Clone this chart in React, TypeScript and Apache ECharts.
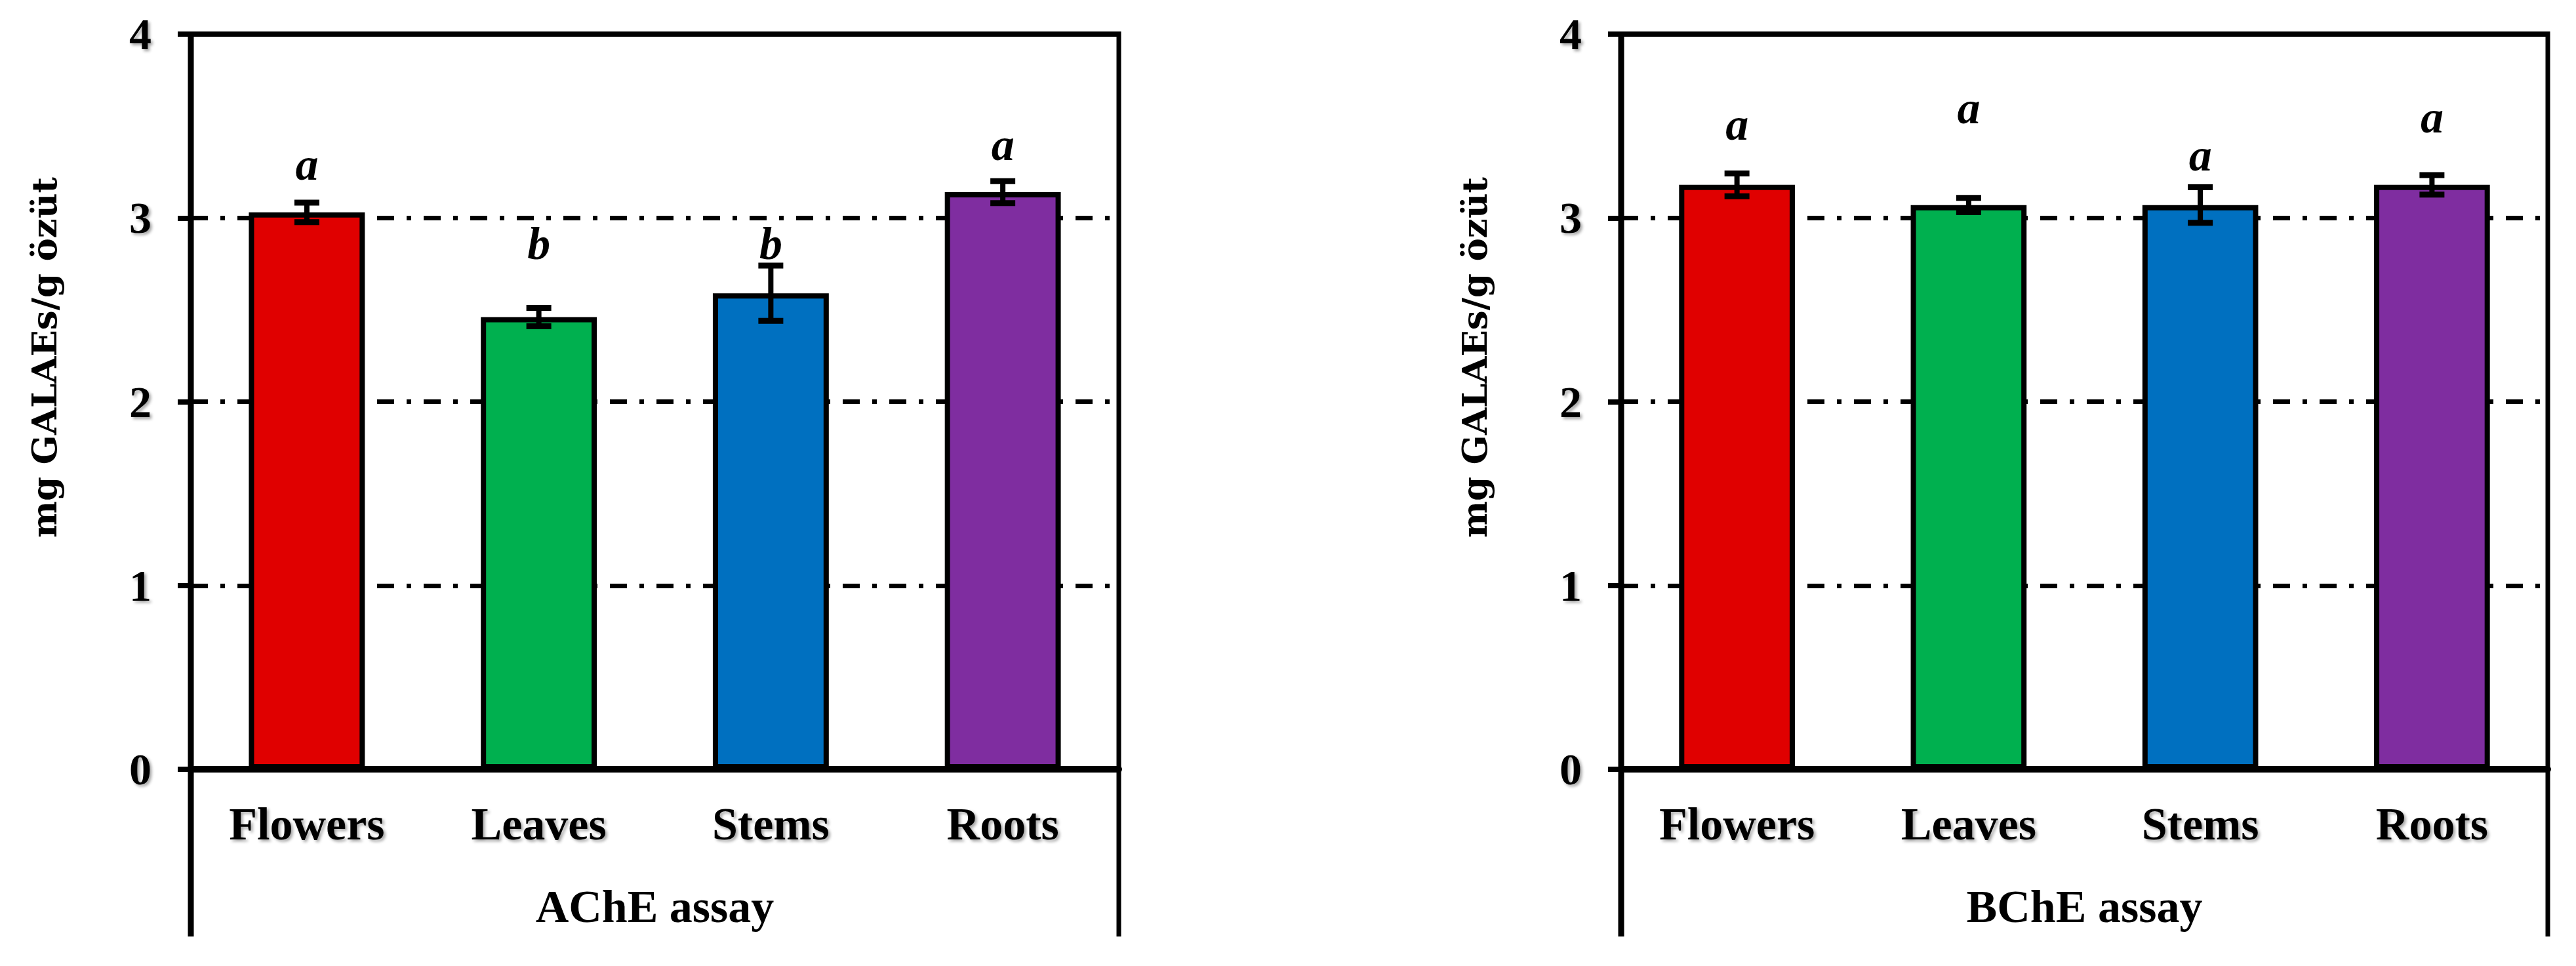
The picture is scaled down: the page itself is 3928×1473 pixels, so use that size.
import React, { useEffect, useRef } from "react";
import * as echarts from "echarts";

// ---------- data ----------
const categories = ["Flowers", "Leaves", "Stems", "Roots"];
const barColors = ["#E00000", "#00B04F", "#0070C0", "#7F2DA0"];
const yMin = 0;
const yMax = 4;
const yStep = 1;
const assayNames = ["AChE assay", "BChE assay"];
const yAxisTitle = "mg GALAEs/g özüt";

const acheMeans = [3.03, 2.46, 2.59, 3.14];
const acheErrors = [0.053, 0.05, 0.15, 0.06];
const acheLetters = ["a", "b", "b", "a"];
const acheLetterPos = [3.29, 2.86, 2.86, 3.4];

const bcheMeans = [3.18, 3.07, 3.07, 3.18];
const bcheErrors = [0.062, 0.039, 0.097, 0.053];
const bcheLetters = ["a", "a", "a", "a"];
const bcheLetterPos = [3.51, 3.6, 3.34, 3.55];

// ---------- layout ----------
const W = 3928;
const H = 1473;
const PANELS = [
  { left: 291, width: 1415, means: acheMeans, errors: acheErrors, letters: acheLetters, letterPos: acheLetterPos, name: assayNames[0] },
  { left: 2472, width: 1413, means: bcheMeans, errors: bcheErrors, letters: bcheLetters, letterPos: bcheLetterPos, name: assayNames[1] },
];
const GRID_TOP = 52;
const GRID_H = 1121;
const FRAME_BOTTOM = 1428;
const SERIF = '"Liberation Serif", "DejaVu Serif", serif';
const shadow = {
  textShadowColor: "rgba(0,0,0,0.35)",
  textShadowBlur: 4,
  textShadowOffsetX: 3,
  textShadowOffsetY: 3,
};

function buildOption() {
  const grid: any[] = [];
  const xAxis: any[] = [];
  const yAxis: any[] = [];
  const series: any[] = [];
  const graphic: any[] = [];

  PANELS.forEach((p, gi) => {
    grid.push({ left: p.left, top: GRID_TOP, width: p.width, height: GRID_H, containLabel: false });
    xAxis.push({
      type: "category",
      gridIndex: gi,
      data: categories,
      boundaryGap: true,
      axisLine: { show: true, lineStyle: { color: "#000", width: 10 } },
      axisTick: { show: false },
      axisLabel: {
        margin: 48,
        fontSize: 70,
        fontWeight: "bold",
        fontFamily: SERIF,
        color: "#000",
        ...shadow,
      },
      splitLine: { show: false },
      z: 5,
    });
    yAxis.push({
      type: "value",
      gridIndex: gi,
      min: yMin,
      max: yMax,
      interval: yStep,
      axisLine: { show: false },
      axisTick: { show: true, length: 20, lineStyle: { color: "#000", width: 8 } },
      axisLabel: {
        margin: 60,
        fontSize: 68,
        fontWeight: "bold",
        fontFamily: SERIF,
        color: "#000",
        ...shadow,
      },
      splitLine: { show: true, lineStyle: { color: "#000", width: 7, type: [26, 19, 7, 19] } },
    });

    series.push({
      type: "bar",
      xAxisIndex: gi,
      yAxisIndex: gi,
      barWidth: "50%",
      data: p.means.map((v, i) => ({
        value: v,
        itemStyle: { color: barColors[i], borderColor: "#000", borderWidth: 8 },
      })),
      z: 3,
    });

    series.push({
      type: "custom",
      xAxisIndex: gi,
      yAxisIndex: gi,
      z: 6,
      encode: { x: 0, y: 1 },
      data: p.means.map((m, i) => [i, m, p.errors[i]]),
      renderItem: (params: any, api: any) => {
        const i = api.value(0);
        const m = api.value(1);
        const e = api.value(2);
        const top = api.coord([i, m + e]);
        const bot = api.coord([i, m - e]);
        const half = 19;
        return {
          type: "group",
          children: [
            { type: "line", shape: { x1: top[0], y1: top[1], x2: bot[0], y2: bot[1] }, style: { stroke: "#000", lineWidth: 8 } },
            { type: "line", shape: { x1: top[0] - half, y1: top[1], x2: top[0] + half, y2: top[1] }, style: { stroke: "#000", lineWidth: 9 } },
            { type: "line", shape: { x1: bot[0] - half, y1: bot[1], x2: bot[0] + half, y2: bot[1] }, style: { stroke: "#000", lineWidth: 9 } },
          ],
        };
      },
    });

    series.push({
      type: "custom",
      xAxisIndex: gi,
      yAxisIndex: gi,
      z: 7,
      encode: { x: 0, y: 1 },
      data: p.letterPos.map((v, i) => [i, v]),
      renderItem: (params: any, api: any) => {
        const pt = api.coord([api.value(0), api.value(1)]);
        return {
          type: "text",
          x: pt[0],
          y: pt[1],
          style: {
            text: p.letters[params.dataIndex],
            fontSize: 70,
            fontWeight: "bold",
            fontStyle: "italic",
            fontFamily: SERIF,
            fill: "#000",
            align: "center",
            verticalAlign: "middle",
          },
        };
      },
    });

    const L = p.left;
    const R = p.left + p.width;
    graphic.push(
      { type: "line", z: 100, shape: { x1: L, y1: GRID_TOP - 4, x2: L, y2: FRAME_BOTTOM }, style: { stroke: "#000", lineWidth: 9 } },
      { type: "line", z: 100, shape: { x1: R, y1: GRID_TOP - 4, x2: R, y2: FRAME_BOTTOM }, style: { stroke: "#000", lineWidth: 7 } },
      { type: "line", z: 100, shape: { x1: L - 4, y1: GRID_TOP, x2: R + 3, y2: GRID_TOP }, style: { stroke: "#000", lineWidth: 8 } },
      {
        type: "text",
        z: 100,
        x: L + p.width / 2,
        y: 1382,
        style: {
          text: p.name,
          fontSize: 70,
          fontWeight: "bold",
          fontFamily: SERIF,
          fill: "#000",
          align: "center",
          verticalAlign: "middle",
        },
      },
      {
        type: "text",
        z: 100,
        x: L - 224,
        y: 545,
        rotation: Math.PI / 2,
        style: {
          text: yAxisTitle,
          fontSize: 53,
          fontWeight: "bold",
          fontFamily: '"DejaVu Serif", serif',
          fill: "#000",
          align: "center",
          verticalAlign: "middle",
        },
      }
    );
  });

  return {
    animation: false,
    backgroundColor: "#fff",
    textStyle: { fontFamily: SERIF },
    grid,
    xAxis,
    yAxis,
    series,
    graphic,
  };
}

export default function App() {
  const ref = useRef<HTMLDivElement>(null);
  useEffect(() => {
    if (!ref.current) return;
    const chart = echarts.init(ref.current, undefined, { renderer: "svg" });
    chart.setOption(buildOption() as any);
    return () => chart.dispose();
  }, []);
  return (
    <div
      ref={ref}
      style={{ position: "fixed", left: 0, top: 0, width: W, height: H, background: "#fff" }}
    />
  );
}
